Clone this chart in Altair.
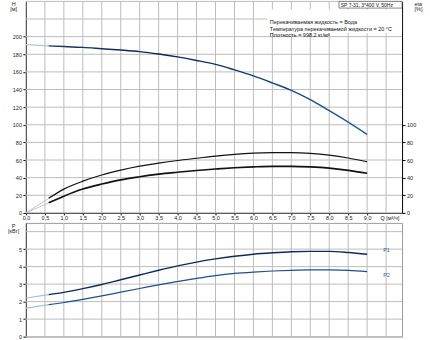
import altair as alt
import pandas as pd

# ---- data ----
Q = [0, 0.6, 1.0, 1.5, 2.0, 2.5, 3.0, 3.5, 4.0, 4.5, 5.0, 5.5, 6.0, 6.5, 7.0, 7.5, 8.0, 8.5, 9.0]
H = [191, 189.5, 188.8, 187.8, 186.3, 184.8, 183, 180.3, 177, 173, 168.5, 162.3, 155.5, 147.5, 139, 128.5, 116, 103, 89]
ETA1 = [0, 16.5, 27, 36, 43, 48.5, 53, 56.5, 59.5, 62, 64.5, 66.5, 67.8, 68.3, 68.3, 67.5, 65.5, 62.3, 58]
ETA2 = [0, 11.5, 19, 27, 32.7, 37.5, 41, 44, 46.2, 48.2, 49.8, 51.2, 52.2, 52.8, 52.8, 52.2, 50.8, 48.3, 45]
P1 = [2.21, 2.4, 2.53, 2.74, 2.98, 3.25, 3.52, 3.79, 4.04, 4.26, 4.44, 4.59, 4.71, 4.79, 4.85, 4.87, 4.87, 4.81, 4.71]
P2 = [1.63, 1.83, 1.95, 2.13, 2.33, 2.54, 2.75, 2.96, 3.15, 3.33, 3.49, 3.61, 3.69, 3.75, 3.79, 3.81, 3.81, 3.79, 3.71]

q_grid = [i * 0.5 for i in range(20)]           # 0 ... 9.5 grid
q_labels = [i * 0.5 for i in range(19)]         # 0 ... 9.0 labelled
h_grid = list(range(0, 241, 20))
h_labels = list(range(0, 201, 20))
eta_labels = list(range(0, 101, 20))
p_grid = [0, 1, 2, 3, 4, 5, 6]
p_labels_axis = [0, 1, 2, 3, 4, 5]

q_title = "Q [м³/ч]"
q_title_pos = 9.6

p_names = ["P1", "P2"]
p_name_q = [9.51, 9.51]
p_name_v = [4.96, 3.53]

model_text = "SP 7-31, 3*400 V, 50Hz"
info_lines = [
    "Перекачиваемая жидкость = Вода",
    "Температура перекачиваемой жидкости = 20 °C",
    "Плотность = 998.2 кг/м³",
]

FONT = "Liberation Sans"
GRID = "#bcbcbc"
W, HT, HB = 377, 212, 114

df = pd.DataFrame({"Q": Q, "H": H, "eta1": ETA1, "eta2": ETA2, "P1": P1, "P2": P2})
df_start = df.iloc[:2]
df_main = df.iloc[1:]
df_pn = pd.DataFrame({"lab": p_names, "Q": p_name_q, "v": p_name_v})
df_qt = pd.DataFrame({"lab": [q_title], "Q": [q_title_pos]})
df_qgrid = pd.DataFrame({"Q": q_grid})
df_hgrid = pd.DataFrame({"v": h_grid})
df_pgrid = pd.DataFrame({"v": p_grid})

xscale = alt.Scale(domain=[0, 9.921], nice=False, zero=False)
hscale = alt.Scale(domain=[0, 240], nice=False, zero=False)
pscale = alt.Scale(domain=[0, 6.5], nice=False, zero=False)

x_top_axis = alt.Axis(values=q_labels, labelExpr="replace(format(datum.value, '.1f'), '.', ',')",
                      labelFlush=False, labelOverlap=False, grid=False, domainColor="#000", tickColor="#000",
                      tickSize=2, labelPadding=1, labelFontSize=5.5, title=None)
h_axis = alt.Axis(values=h_labels, grid=False, labelOverlap=False, domainColor="#000", tickColor="#000",
                  tickSize=3, labelPadding=1.5, labelFontSize=5.5,
                  title=["H", "[м]"], titleAngle=0, titleX=-12.8, titleY=0, titleBaseline="top",
                  titleAlign="center", titleFontSize=5.5, titleFontWeight="normal", titleLineHeight=5.5)
eta_axis = alt.Axis(values=eta_labels, orient="right", grid=False, labelOverlap=False, domainColor="#000",
                    tickColor="#000", tickSize=3, labelPadding=1.5, labelFontSize=5.5,
                    title=["eta", "[%]"], titleAngle=0, titleX=12, titleY=0, titleBaseline="top",
                    titleAlign="left", titleFontSize=5.5, titleFontWeight="normal", titleLineHeight=5.5)
x_bot_axis = alt.Axis(labels=False, ticks=False, domain=False, grid=False, title=None)
p_axis = alt.Axis(values=p_labels_axis, grid=False, labelOverlap=False, domainColor="#000", tickColor="#000",
                  tickSize=3, labelPadding=1.5, labelFontSize=5.5,
                  title=["P", "[кВт]"], titleAngle=0, titleX=-12.8, titleY=0.3, titleBaseline="top",
                  titleAlign="center", titleFontSize=5.5, titleFontWeight="normal", titleLineHeight=5)


def xt(field="Q"):
    return alt.X(f"{field}:Q", scale=xscale, axis=x_top_axis)


def yh(field):
    return alt.Y(f"{field}:Q", scale=hscale, axis=h_axis)


def ye(field):
    return alt.Y(f"{field}:Q", scale=hscale, axis=eta_axis)


def xb(field="Q"):
    return alt.X(f"{field}:Q", scale=xscale, axis=x_bot_axis)


def yp(field):
    return alt.Y(f"{field}:Q", scale=pscale, axis=p_axis)


# ---- top panel ----
vgrid_top = alt.Chart(df_qgrid).mark_rule(color=GRID, strokeWidth=1).encode(
    x=xt(), y=alt.value(0), y2=alt.value(HT))
hgrid_top = alt.Chart(df_hgrid).mark_rule(color=GRID, strokeWidth=1).encode(
    y=yh("v"), x=alt.value(0), x2=alt.value(W))

h_grad = alt.Gradient(gradient="linear", stops=[
    alt.GradientStop(color="#17396c", offset=0),
    alt.GradientStop(color="#0b2352", offset=0.35),
    alt.GradientStop(color="#1f5fa3", offset=1)], x1=0, x2=1, y1=0, y2=0)

h_start = alt.Chart(df_start).mark_line(color="#b7c3d3", strokeWidth=1.1).encode(x=xt(), y=yh("H"))
h_main = alt.Chart(df_main).mark_line(stroke=h_grad, strokeWidth=1.4, interpolate="monotone").encode(
    x=xt(), y=yh("H"))

box_bg = alt.Chart(pd.DataFrame({"t": [0]})).mark_rect(fill="white").encode(
    x=alt.value(242), x2=alt.value(W), y=alt.value(8), y2=alt.value(32))
info = alt.Chart(pd.DataFrame({"t": [0]})).mark_text(
    text=info_lines, align="left", baseline="middle", fontSize=5.5, lineHeight=6.3, color="#111", font=FONT
).encode(x=alt.value(244.5), y=alt.value(21))
model_box = alt.Chart(pd.DataFrame({"t": [0]})).mark_rect(fill="white", stroke="#555", strokeWidth=0.7).encode(
    x=alt.value(313.8), x2=alt.value(W), y=alt.value(0), y2=alt.value(6.7))
model = alt.Chart(pd.DataFrame({"t": [model_text]})).mark_text(
    align="left", baseline="middle", fontSize=5, color="#111", font=FONT
).encode(x=alt.value(315.5), y=alt.value(3.6), text="t:N")
q_text = alt.Chart(df_qt).mark_text(fontSize=5.5, color="#222", baseline="top", font=FONT).encode(
    x=xt(), y=alt.value(HT + 3), text="lab:N")

layer_h = alt.layer(vgrid_top, hgrid_top, h_start, h_main, box_bg, info, model_box, model, q_text)

eta1_start = alt.Chart(df_start).mark_line(color="#c4c4c4", strokeWidth=1).encode(x=xt(), y=ye("eta1"))
eta2_start = alt.Chart(df_start).mark_line(color="#c4c4c4", strokeWidth=1).encode(x=xt(), y=ye("eta2"))
eta1_main = alt.Chart(df_main).mark_line(color="#111", strokeWidth=1.2, interpolate="monotone").encode(
    x=xt(), y=ye("eta1"))
eta2_main = alt.Chart(df_main).mark_line(color="#111", strokeWidth=1.6, interpolate="monotone").encode(
    x=xt(), y=ye("eta2"))
layer_eta = alt.layer(eta1_start, eta2_start, eta1_main, eta2_main)

top = alt.layer(layer_h, layer_eta).resolve_scale(y="independent").properties(
    width=W, height=HT, view=alt.ViewBackground(strokeOpacity=0))

# ---- bottom panel ----
vgrid_bot = alt.Chart(df_qgrid).mark_rule(color=GRID, strokeWidth=1).encode(
    x=xb(), y=alt.value(0), y2=alt.value(HB))
hgrid_bot = alt.Chart(df_pgrid).mark_rule(color=GRID, strokeWidth=1).encode(
    y=yp("v"), x=alt.value(0), x2=alt.value(W))
p1_start = alt.Chart(df_start).mark_line(color="#aebccf", strokeWidth=1.1).encode(x=xb(), y=yp("P1"))
p2_start = alt.Chart(df_start).mark_line(color="#aebccf", strokeWidth=1.1).encode(x=xb(), y=yp("P2"))
p1_main = alt.Chart(df_main).mark_line(color="#0c2b5c", strokeWidth=1.4, interpolate="monotone").encode(
    x=xb(), y=yp("P1"))
p2_main = alt.Chart(df_main).mark_line(color="#1c4f8e", strokeWidth=1.2, interpolate="monotone").encode(
    x=xb(), y=yp("P2"))
p_text = alt.Chart(df_pn).mark_text(fontSize=5.5, color="#2b5fa0", font=FONT).encode(
    x=xb(), y=yp("v"), text="lab:N")

bottom = alt.layer(vgrid_bot, hgrid_bot, p1_start, p2_start, p1_main, p2_main, p_text).properties(
    width=W, height=HB, view=alt.ViewBackground(stroke="#9a9a9a", strokeWidth=1))

chart = alt.vconcat(top, bottom, spacing=10, bounds="flush").properties(
    padding={"left": 6, "top": 0, "right": 8, "bottom": 4}
).configure_axis(labelFont=FONT, titleFont=FONT, labelColor="#222", titleColor="#222"
).configure_text(font=FONT).configure_view(stroke="#9a9a9a")

chart.save("out.html", embed_options={"renderer": "svg", "actions": False})
